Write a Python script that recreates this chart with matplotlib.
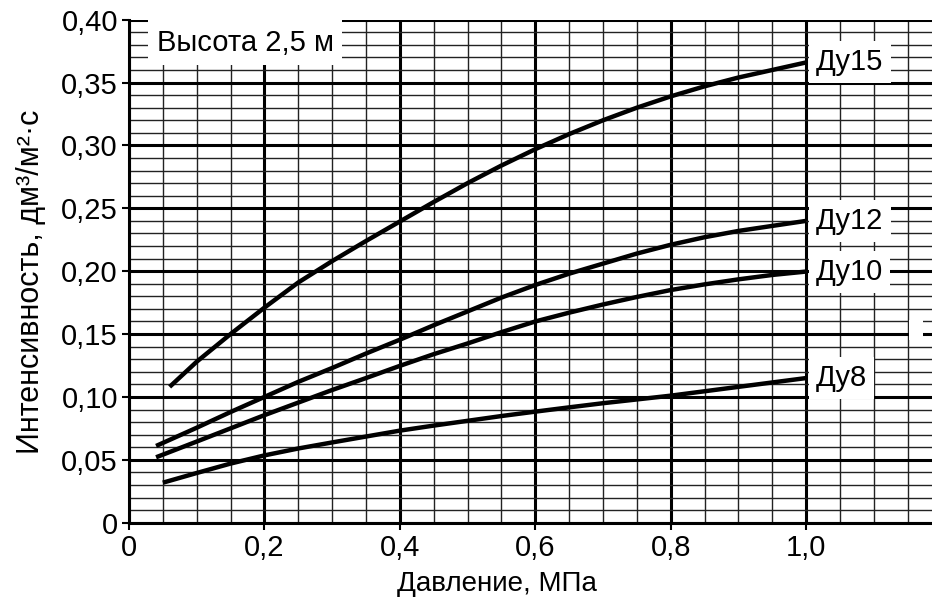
import matplotlib
matplotlib.use('Agg')
import matplotlib.pyplot as plt
import numpy as np

plt.rcParams['font.family'] = ['Liberation Sans', 'DejaVu Sans']

# давление, МПа / интенсивность, дм3/м2*с
x15 = [0.06, 0.08, 0.10, 0.15, 0.20, 0.25, 0.30, 0.35, 0.40, 0.45, 0.50,
       0.55, 0.60, 0.65, 0.70, 0.75, 0.80, 0.85, 0.90, 0.95, 1.00]
y15 = [0.108, 0.118, 0.128, 0.150, 0.171, 0.191, 0.208, 0.224, 0.2395, 0.255, 0.270,
       0.284, 0.297, 0.309, 0.320, 0.330, 0.339, 0.347, 0.354, 0.360, 0.366]

x12 = [0.04, 0.10, 0.15, 0.20, 0.25, 0.30, 0.35, 0.40, 0.45, 0.50,
       0.55, 0.60, 0.65, 0.70, 0.75, 0.80, 0.85, 0.90, 0.95, 1.00]
y12 = [0.061, 0.0755, 0.088, 0.100, 0.112, 0.123, 0.1345, 0.1455, 0.157, 0.168,
       0.179, 0.189, 0.198, 0.206, 0.214, 0.221, 0.227, 0.232, 0.236, 0.240]

x10 = [0.04, 0.10, 0.15, 0.20, 0.25, 0.30, 0.35, 0.40, 0.45, 0.50,
       0.55, 0.60, 0.65, 0.70, 0.75, 0.80, 0.85, 0.90, 0.95, 1.00]
y10 = [0.052, 0.0645, 0.075, 0.0855, 0.0955, 0.1055, 0.115, 0.1247, 0.134, 0.1425,
       0.1515, 0.160, 0.167, 0.1735, 0.1795, 0.185, 0.1895, 0.1935, 0.197, 0.1997]

x8 = [0.05, 0.10, 0.15, 0.20, 0.25, 0.30, 0.35, 0.40, 0.45, 0.50,
      0.55, 0.60, 0.65, 0.70, 0.75, 0.80, 0.85, 0.90, 0.95, 1.00]
y8 = [0.0318, 0.0395, 0.047, 0.0535, 0.059, 0.0638, 0.0685, 0.0732, 0.0772, 0.081,
      0.0848, 0.0883, 0.0917, 0.095, 0.098, 0.101, 0.1045, 0.108, 0.1115, 0.115]

curves = [('Ду15', x15, y15), ('Ду12', x12, y12), ('Ду10', x10, y10), ('Ду8', x8, y8)]

xt = [0, 0.2, 0.4, 0.6, 0.8, 1.0]
xt_lab = ['0', '0,2', '0,4', '0,6', '0,8', '1,0']
yt = [0, 0.05, 0.10, 0.15, 0.20, 0.25, 0.30, 0.35, 0.40]
yt_lab = ['0', '0,05', '0,10', '0,15', '0,20', '0,25', '0,30', '0,35', '0,40']

fig = plt.figure(figsize=(9.32, 6.06), dpi=100)
ax = fig.add_axes([0.1384, 0.1375, 0.8616, 0.83])

ax.set_xlim(0, 1.186)
ax.set_ylim(0, 0.40)

ax.set_xticks(xt)
ax.set_xticklabels(xt_lab)
ax.set_yticks(yt)
ax.set_yticklabels(yt_lab)
ax.set_xticks(np.arange(0, 1.19, 0.05), minor=True)
ax.set_yticks(np.arange(0, 0.401, 0.01), minor=True)

ax.grid(which='minor', color='#222222', lw=1.0)
ax.grid(which='major', color='black', lw=2.2)
ax.set_axisbelow(True)
ax.tick_params(which='minor', length=0)
ax.tick_params(which='major', length=5, width=1.5, labelsize=21, direction='out', pad=3)

for s in ['top', 'right']:
    ax.spines[s].set_visible(False)
for s in ['left', 'bottom']:
    ax.spines[s].set_linewidth(2.2)

for name, xs, ys in curves:
    ax.plot(xs, ys, color='black', lw=3.2, solid_capstyle='butt', zorder=3)
    ax.text(xs[-1] + 0.015, ys[-1], name, fontsize=21, ha='left', va='center', zorder=4,
            bbox=dict(facecolor='white', edgecolor='none', pad=5))

# small white gap in the grid at the right edge
ax.add_patch(plt.Rectangle((0.971, 0.363), 0.0174, 0.04, transform=ax.transAxes,
                           facecolor='white', edgecolor='none', zorder=2))

ax.text(0.041, 0.3817, 'Высота 2,5 м', fontsize=21, ha='left', va='center', zorder=4,
        bbox=dict(facecolor='white', edgecolor='none', pad=6))

ax.set_xlabel('Давление, МПа', fontsize=20)
ax.xaxis.set_label_coords(0.458, -0.097)
ax.set_ylabel('Интенсивность, дм³/м²·с', fontsize=22)
ax.yaxis.set_label_coords(-0.103, 0.479)

fig.savefig('out.png', dpi=100)
